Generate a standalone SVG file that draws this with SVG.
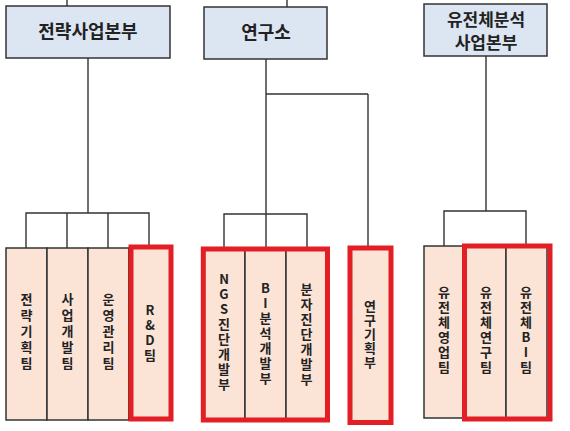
<svg xmlns="http://www.w3.org/2000/svg" width="570" height="431" viewBox="0 0 570 431">
<style>
.top{fill:#dce6f2;stroke:#333;stroke-width:1.5}
.team{fill:#fbe3d6;stroke:#333;stroke-width:1.5}
.hl{fill:none;stroke:#e31e24;stroke-width:5}
.ln{fill:none;stroke:#333;stroke-width:1.4}
.tt{font-family:"Noto Sans CJK KR","Noto Sans",sans-serif;font-weight:bold;font-size:18px;fill:#222;text-anchor:middle}
.vt{font-family:"Noto Sans CJK KR","Noto Sans",sans-serif;font-weight:bold;font-size:13px;fill:#222;text-anchor:middle;writing-mode:vertical-rl;text-orientation:upright;letter-spacing:2px}
.w3{letter-spacing:3px}
.w1{letter-spacing:1px}
</style>
<rect width="570" height="431" fill="#fff"/>
<g id="connectors">
<path class="ln" d="M67 0V6M287 0V7"/>
<path class="ln" d="M88 58V213M26 248V213H149V248M67 213V248M108 213V248"/>
<path class="ln" d="M266 59V247M224 249V214H307V249M368 94H266M368 94V246"/>
<path class="ln" d="M486 56V211M444 246V211H526V246"/>
</g>
<g id="n-strategy"><rect class="top" x="6" y="6" width="164" height="52"/><text class="tt" x="88" y="38">전략사업본부</text></g>
<g id="n-lab"><rect class="top" x="204" y="7" width="123" height="52"/><text class="tt" x="266" y="39">연구소</text></g>
<g id="n-genome"><rect class="top" x="424" y="4" width="123" height="52"/><text class="tt" x="486" y="26" style="font-size:17px"><tspan x="486" y="26">유전체분석</tspan><tspan x="486" y="49">사업본부</tspan></text></g>

<g id="t1"><rect class="team" x="6" y="248" width="41" height="172"/><text class="vt w3" x="26.5" y="333">전략기획팀</text></g>
<g id="t2"><rect class="team" x="47" y="248" width="41" height="172"/><text class="vt w3" x="67.5" y="333">사업개발팀</text></g>
<g id="t3"><rect class="team" x="88" y="248" width="41" height="172"/><text class="vt w3" x="108.5" y="333">운영관리팀</text></g>
<g id="t4"><rect class="team" x="129" y="248" width="42" height="172"/><rect class="hl" x="131" y="247" width="40" height="172"/><text class="vt" x="150" y="334">R&amp;D팀</text></g>

<g id="t5"><rect class="team" x="204" y="249" width="41" height="171"/><text class="vt" x="224" y="333">NGS진단개발부</text></g>
<g id="t6"><rect class="team" x="245" y="249" width="41" height="171"/><text class="vt" x="265.5" y="334">BI분석개발부</text></g>
<g id="t7"><rect class="team" x="286" y="249" width="41" height="171"/><text class="vt" x="306.5" y="335">분자진단개발부</text></g>
<rect class="hl" x="203.3" y="249" width="124.2" height="171"/>
<g id="t8"><rect class="team" x="350" y="248" width="41" height="174.5"/><rect class="hl" x="350" y="248" width="41" height="174.5"/><text class="vt w1" x="370" y="335">연구기획부</text></g>

<g id="t9"><rect class="team" x="424" y="246" width="41" height="172"/><text class="vt" x="444" y="331">유전체영업팀</text></g>
<g id="t10"><rect class="team" x="465" y="246" width="41" height="172"/><text class="vt" x="486" y="331">유전체연구팀</text></g>
<g id="t11"><rect class="team" x="506" y="246" width="41" height="172"/><text class="vt" x="526" y="331">유전체BI팀</text></g>
<rect class="hl" x="464.5" y="246" width="85.5" height="173"/>
</svg>
